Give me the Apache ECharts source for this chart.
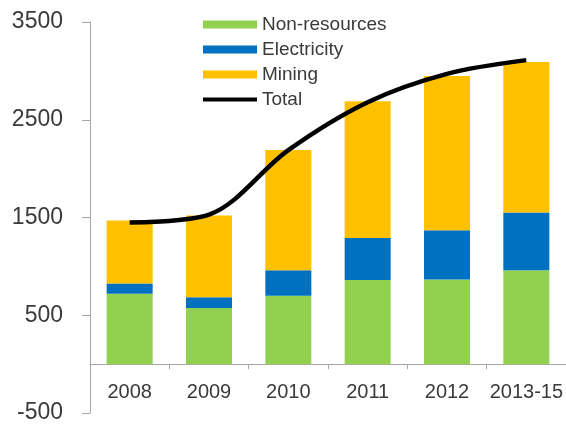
<!DOCTYPE html>
<html>
<head>
<meta charset="utf-8">
<script src="https://cdn.jsdelivr.net/npm/echarts@6/dist/echarts.min.js"></script>
<style>html,body{margin:0;padding:0;background:#fff}#c{width:566px;height:425px}</style>
</head>
<body>
<div id="c"></div>
<script>
var categories = ['2008', '2009', '2010', '2011', '2012', '2013-15'];
var nonResources = [720, 575, 700, 860, 865, 960];
var electricity = [105, 110, 260, 430, 505, 590];
var mining = [645, 835, 1230, 1400, 1577, 1540];
var total = [1450, 1530, 2190, 2680, 2970, 3110];
var yTicks = [-500, 3500, 1000];

var W = 566, H = 425;
var gridTop = 22, gridBottom = 12;
var gridH = H - gridTop - gridBottom;
// place the category axis at value 0
var zeroOffset = -((0 - yTicks[0]) / (yTicks[1] - yTicks[0])) * gridH;

var chart = echarts.init(document.getElementById('c'), null, {renderer: 'canvas'});
var font = 'Liberation Sans';
chart.setOption({
  animation: false,
  backgroundColor: '#fff',
  grid: {left: 90, right: 0, top: gridTop, bottom: gridBottom, containLabel: false, outerBoundsMode: 'none'},
  legend: {
    orient: 'vertical', left: 198, top: 10,
    itemWidth: 54, itemHeight: 8, itemGap: 6,
    textStyle: {fontFamily: font, fontSize: 19, color: '#3a3a3a', lineHeight: 19},
    data: [
      {name: 'Non-resources', icon: 'rect'},
      {name: 'Electricity', icon: 'rect'},
      {name: 'Mining', icon: 'rect'},
      {name: 'Total', icon: 'path://M0,0H54V4H0Z', itemStyle: {color: '#000'}}
    ]
  },
  xAxis: {
    type: 'category', data: categories, position: 'bottom', offset: zeroOffset,
    axisLine: {onZero: false, lineStyle: {color: '#a6a6a6', width: 1}},
    axisTick: {show: true, interval: 0, length: 5, lineStyle: {color: '#a6a6a6'}},
    axisLabel: {interval: 0, fontFamily: font, fontSize: 20, color: '#3a3a3a', margin: 18}
  },
  yAxis: {
    type: 'value', min: yTicks[0], max: yTicks[1], interval: yTicks[2],
    axisLine: {show: true, lineStyle: {color: '#a6a6a6', width: 1}},
    axisTick: {show: true, length: 8, lineStyle: {color: '#a6a6a6'}},
    splitLine: {show: false},
    axisLabel: {fontFamily: font, fontSize: 23, color: '#3a3a3a', margin: 27,
      formatter: function (v) { return String(v); }}
  },
  series: [
    {name: 'Non-resources', type: 'bar', stack: 's', data: nonResources, barWidth: '58%', itemStyle: {color: '#92D050'}},
    {name: 'Electricity', type: 'bar', stack: 's', data: electricity, itemStyle: {color: '#0070C0'}},
    {name: 'Mining', type: 'bar', stack: 's', data: mining, itemStyle: {color: '#FFC000'}},
    {name: 'Total', type: 'line', data: total, smooth: 0.33, symbol: 'none', z: 5,
      lineStyle: {color: '#000', width: 4.5}, itemStyle: {color: '#000'}}
  ]
});
</script>
</body>
</html>
